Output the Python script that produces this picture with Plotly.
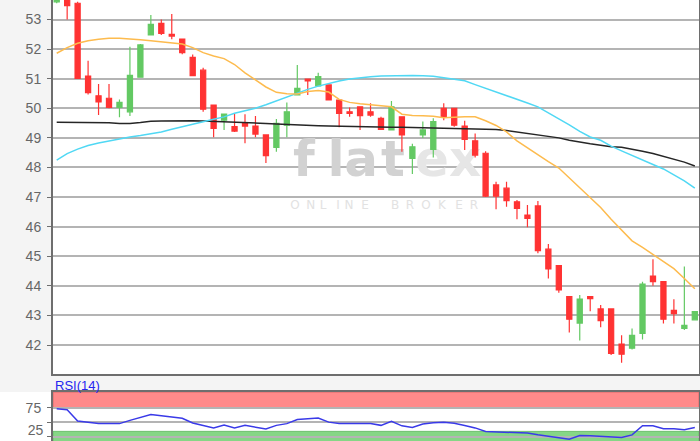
import plotly.graph_objects as go

# ---------------- data ----------------
days = list(range(62))

open_ = [53.60, 53.80, 53.55, 51.09, 50.42, 50.34, 50.03, 49.88, 51.05, 52.48,
         52.87, 52.50, 52.34, 51.72, 51.29, 50.11, 49.60, 49.38, 49.49, 49.40,
         49.10, 48.68, 49.43, 50.45, 50.99, 50.76, 50.79, 50.28, 49.88, 50.05,
         49.88, 49.66, 49.27, 49.71, 48.31, 49.10, 48.61, 50.00, 50.00, 49.40,
         48.90, 48.48, 47.41, 47.30, 46.84, 46.39, 46.70, 45.24, 44.68, 43.64,
         42.74, 43.64, 43.22, 43.22, 42.03, 41.89, 42.39, 44.33, 44.14, 43.17,
         42.56, 42.85]
high = [53.90, 53.85, 53.60, 51.61, 50.82, 50.82, 50.30, 52.08, 52.17, 53.15,
        53.00, 53.19, 52.36, 51.82, 51.37, 50.12, 49.82, 49.81, 49.80, 49.74,
        49.12, 49.64, 50.20, 51.46, 51.00, 51.20, 50.80, 50.29, 50.03, 50.06,
        50.17, 49.71, 50.25, 49.72, 48.80, 49.55, 49.66, 50.17, 50.00, 49.58,
        49.15, 48.55, 47.52, 47.52, 46.90, 46.73, 46.87, 45.41, 44.70, 43.66,
        43.69, 43.66, 43.35, 43.23, 42.33, 42.56, 44.14, 44.90, 44.16, 43.55,
        44.65, 43.15]
low = [53.55, 53.00, 51.00, 50.47, 49.77, 50.00, 49.70, 49.74, 51.05, 52.46,
       52.48, 52.33, 51.83, 51.08, 49.88, 49.02, 49.27, 49.20, 48.82, 49.02,
       48.15, 48.53, 49.02, 50.43, 50.45, 50.74, 50.27, 49.36, 49.71, 49.27,
       49.71, 49.27, 49.25, 48.53, 47.78, 49.00, 48.34, 49.60, 49.38, 48.59,
       48.34, 47.00, 46.59, 46.67, 46.25, 45.98, 45.10, 44.25, 43.77, 42.42,
       42.15, 43.14, 42.60, 41.66, 41.40, 41.85, 42.19, 44.00, 42.73, 42.73,
       42.51, 42.84]
close = [53.80, 53.47, 51.01, 50.53, 50.22, 50.03, 50.20, 51.11, 52.14, 52.84,
         52.53, 52.44, 51.88, 51.10, 49.97, 49.32, 49.80, 49.23, 49.40, 49.13,
         48.40, 49.49, 49.88, 50.67, 50.93, 51.07, 50.28, 49.83, 49.83, 49.75,
         49.77, 49.29, 50.05, 49.10, 48.70, 49.27, 49.55, 49.71, 49.43, 48.95,
         48.42, 47.03, 47.03, 46.88, 46.62, 46.28, 45.19, 44.57, 43.86, 42.87,
         43.55, 43.57, 42.82, 41.72, 41.69, 42.33, 44.06, 44.14, 42.87, 43.06,
         42.66, 43.13]

ma_orange = [51.86, 52.05, 52.20, 52.28, 52.33, 52.37, 52.37, 52.35, 52.32, 52.28,
             52.25, 52.22, 52.17, 52.05, 51.88, 51.77, 51.68, 51.48, 51.20, 50.96,
             50.72, 50.54, 50.49, 50.48, 50.57, 50.60, 50.55, 50.30, 50.20, 50.15,
             50.11, 50.08, 50.05, 49.80, 49.76, 49.75, 49.73, 49.68, 49.70, 49.71,
             49.71, 49.58, 49.42, 49.20, 48.90, 48.66, 48.45, 48.20, 47.98, 47.65,
             47.30, 47.00, 46.65, 46.25, 45.90, 45.52, 45.30, 45.05, 44.82, 44.58,
             44.25, 43.90]
ma_cyan = [48.25, 48.47, 48.62, 48.74, 48.83, 48.90, 48.97, 49.03, 49.08, 49.14,
           49.20, 49.29, 49.38, 49.47, 49.55, 49.63, 49.71, 49.83, 49.92, 50.00,
           50.12, 50.25, 50.40, 50.53, 50.64, 50.75, 50.84, 50.92, 50.99, 51.04,
           51.07, 51.09, 51.10, 51.11, 51.11, 51.10, 51.08, 51.03, 50.98, 50.93,
           50.80, 50.68, 50.55, 50.42, 50.30, 50.18, 50.05, 49.85, 49.65, 49.44,
           49.22, 49.03, 48.92, 48.72, 48.56, 48.40, 48.25, 48.10, 47.95, 47.75,
           47.55, 47.30]
ma_black = [49.53, 49.53, 49.53, 49.53, 49.53, 49.51, 49.49, 49.49, 49.52, 49.56,
            49.57, 49.58, 49.58, 49.58, 49.57, 49.56, 49.55, 49.54, 49.52, 49.51,
            49.49, 49.47, 49.45, 49.43, 49.42, 49.41, 49.40, 49.39, 49.38, 49.38,
            49.37, 49.37, 49.36, 49.36, 49.35, 49.35, 49.34, 49.33, 49.32, 49.32,
            49.31, 49.30, 49.28, 49.25, 49.20, 49.15, 49.10, 49.05, 49.00, 48.92,
            48.85, 48.80, 48.75, 48.70, 48.68, 48.62, 48.55, 48.47, 48.38, 48.28,
            48.18, 48.05]
rsi14 = [73.0, 71.5, 52.0, 49.6, 47.5, 47.4, 47.4, 53.0, 58.0, 63.0,
         61.0, 59.0, 56.7, 48.6, 44.0, 39.8, 45.0, 40.0, 44.4, 41.0,
         38.0, 44.4, 47.4, 54.4, 55.5, 57.0, 50.0, 47.8, 47.5, 47.5,
         47.4, 44.4, 51.4, 43.6, 40.8, 46.8, 49.0, 49.6, 48.0, 44.0,
         40.0, 34.0, 33.5, 33.0, 32.0, 31.0, 28.0, 25.0, 23.0, 20.5,
         27.0, 26.5, 25.5, 24.5, 23.3, 28.0, 43.8, 43.8, 38.5, 38.5,
         36.8, 40.8]

price_ticks = [42, 43, 44, 45, 46, 47, 48, 49, 50, 51, 52, 53]
rsi_ticks = [25, 50, 75]
rsi_ticktext = ["", "", "75"]      # the "25" label is drawn separately so it stays inside the window
rsi_low_label = ["25"]
rsi_low_value = [25]
rsi_overbought = 75
rsi_oversold = 34

# watermark letters (positions as fractions of the price panel)
wm_text = ["f", "l", "a", "t", "e", "x"]
wm_x = [0.3885, 0.4381, 0.4768, 0.5263, 0.5867, 0.6378]
wm_col = ["#d2d2d2"] * 4 + ["#e6e6e6"] * 2
sub_text = list("ONLINEBROKER")
sub_x = [(p - 53) / 646 for p in [295, 310.7, 323, 338, 349, 365, 395, 410, 426, 442, 459, 474]]

# ---------------- figure ----------------
X_RANGE = [-0.354, 61.40]
FONT = "Liberation Sans, Arial, sans-serif"
RED = "#ff3333"
GREEN = "#63c963"
W, H = 700, 441
PLOT_W = W - 1
LEFT = 53 / PLOT_W          # left edge of the chart panels (in plot-area fraction)

fig = go.Figure()

# watermark on the base (hidden) axes so it sits under the candles
fig.add_trace(go.Scatter(
    x=wm_x, y=[0.562] * len(wm_x), text=wm_text, mode="text",
    textfont=dict(family="DejaVu Sans, sans-serif", size=50, color=wm_col, weight=700),
    xaxis="x", yaxis="y", hoverinfo="skip", showlegend=False))
fig.add_trace(go.Scatter(
    x=sub_x, y=[0.449] * len(sub_x), text=sub_text, mode="text",
    textfont=dict(family="DejaVu Sans, sans-serif", size=12, color="#e2e2e2"),
    xaxis="x", yaxis="y", hoverinfo="skip", showlegend=False))

fig.add_trace(go.Candlestick(
    x=days, open=open_, high=high, low=low, close=close,
    increasing=dict(line=dict(color=GREEN, width=1.2), fillcolor=GREEN),
    decreasing=dict(line=dict(color=RED, width=1.2), fillcolor=RED),
    whiskerwidth=0, xaxis="x2", yaxis="y2", hoverinfo="skip", showlegend=False))

fig.add_trace(go.Scatter(x=days, y=ma_black, mode="lines",
                         line=dict(color="#262626", width=1.5),
                         xaxis="x2", yaxis="y2", hoverinfo="skip", showlegend=False))
fig.add_trace(go.Scatter(x=days, y=ma_cyan, mode="lines",
                         line=dict(color="#50d8f4", width=1.5),
                         xaxis="x2", yaxis="y2", hoverinfo="skip", showlegend=False))
fig.add_trace(go.Scatter(x=days, y=ma_orange, mode="lines",
                         line=dict(color="#fdbb4e", width=1.5),
                         xaxis="x2", yaxis="y2", hoverinfo="skip", showlegend=False))

fig.add_trace(go.Scatter(x=days, y=rsi14, mode="lines",
                         line=dict(color="#3a3ae8", width=1.5),
                         xaxis="x3", yaxis="y3", hoverinfo="skip", showlegend=False))

MAIN_BOTTOM = 1 - 374 / H
RSI_TOP = (H - 392) / H
RSI_RANGE = [17.4, 102]
LABEL_LIFT = 8.6            # helper-axis offset so the "25" label sits fully inside the window
LABEL_RANGE = [RSI_RANGE[0] - LABEL_LIFT, RSI_RANGE[1] - LABEL_LIFT]

# "25" label of the RSI axis, in a label strip left of the panel
fig.add_trace(go.Scatter(x=[0.82] * len(rsi_low_label), y=rsi_low_value, text=rsi_low_label,
                         mode="text", textposition="middle left", cliponaxis=False,
                         textfont=dict(family=FONT, size=14, color="#666666"),
                         xaxis="x4", yaxis="y4", hoverinfo="skip", showlegend=False))

axis_line = dict(showline=True, linecolor="#6e6e6e", linewidth=2)

fig.update_layout(
    width=W, height=H,
    margin=dict(l=0, r=1, t=0, b=0, autoexpand=False),
    paper_bgcolor="#f4f4f4",
    plot_bgcolor="#ffffff",
    boxgap=0.3,
    showlegend=False,
    hovermode=False,
    xaxis=dict(domain=[LEFT, 1], range=[0, 1], visible=False, fixedrange=True, anchor="y",
               automargin=False),
    yaxis=dict(domain=[MAIN_BOTTOM, 1], range=[0, 1], visible=False, fixedrange=True, anchor="x",
               automargin=False),
    xaxis2=dict(overlaying="x", anchor="y2", range=X_RANGE, showgrid=False, zeroline=False,
                showticklabels=False, ticks="", automargin=False,
                rangeslider=dict(visible=False), **axis_line),
    yaxis2=dict(overlaying="y", anchor="x2", side="left", range=[41.02, 53.66],
                tickvals=price_ticks, ticks="outside", ticklen=4, tickcolor="#6e6e6e",
                ticklabelstandoff=3,
                tickfont=dict(family=FONT, size=14, color="#666666"), automargin=False,
                showgrid=True, gridcolor="#b4b4b4", gridwidth=1.5, zeroline=False,
                mirror=True, **axis_line),
    xaxis3=dict(domain=[LEFT, 1], anchor="y3", range=X_RANGE, side="top", showgrid=False,
                zeroline=False, showticklabels=False, ticks="", automargin=False, **axis_line),
    yaxis3=dict(domain=[0, RSI_TOP], anchor="x3", range=RSI_RANGE,
                tickvals=rsi_ticks, ticktext=rsi_ticktext, ticks="outside", ticklen=4,
                ticklabelstandoff=3,
                tickcolor="#6e6e6e", tickfont=dict(family=FONT, size=14, color="#666666"),
                automargin=False,
                showgrid=True, gridcolor="#b4b4b4", gridwidth=1.5, zeroline=False,
                mirror=True, **axis_line),
    xaxis4=dict(domain=[0, LEFT * 0.999], anchor="y4", range=[0, 1], visible=False,
                fixedrange=True, automargin=False),
    yaxis4=dict(domain=[0, RSI_TOP], anchor="x4", range=LABEL_RANGE, visible=False,
                fixedrange=True, automargin=False),
    shapes=[
        dict(type="rect", xref="x3 domain", yref="y3", x0=0, x1=1,
             y0=rsi_overbought, y1=RSI_RANGE[1], fillcolor="#ff8a8a",
             line=dict(color="#d96b6b", width=1), layer="below"),
        dict(type="rect", xref="x3 domain", yref="y3", x0=0, x1=1,
             y0=RSI_RANGE[0] - 5, y1=rsi_oversold, fillcolor="#86d686",
             line=dict(color="#6cbf6c", width=1), layer="below"),
    ],
    annotations=[
        dict(text="RSI(14)", xref="paper", yref="paper", x=LEFT, y=(H - 385.5) / H,
             xanchor="left", yanchor="middle", showarrow=False,
             font=dict(family=FONT, size=13, color="#2626f0")),
    ],
)

fig.write_html(
    "out.html",
    config={"displayModeBar": False},
    post_script=("document.documentElement.style.margin='0';"
                 "document.body.style.margin='0';"
                 "document.documentElement.style.overflow='hidden';"
                 "document.body.style.overflow='hidden';"),
)
